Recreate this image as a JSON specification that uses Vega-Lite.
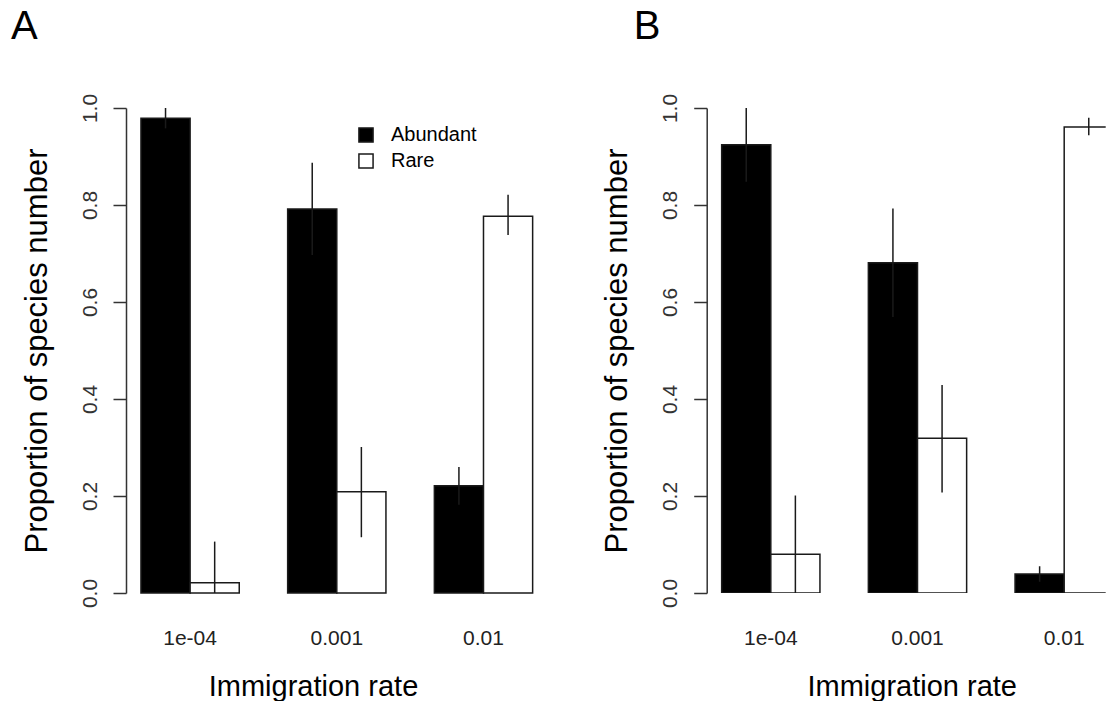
{
  "$schema": "https://vega.github.io/schema/vega-lite/v6.json",
  "background": "white",
  "padding": {"left": 11, "top": 6, "right": 0, "bottom": 0},
  "config": {
    "view": {"stroke": null},
    "font": "Liberation Sans",
    "title": {"fontSize": 40, "fontWeight": "normal", "color": "black", "anchor": "start", "frame": "bounds", "offset": 46.7},
    "axisX": {"domain": false, "ticks": false, "labelAngle": 0, "labelFontSize": 21, "labelColor": "#222", "labelPadding": 34, "titleFontSize": 29, "titleFontWeight": "normal", "titleColor": "black", "titlePadding": 24},
    "axisY": {"grid": false, "labelAngle": 270, "labelAlign": "center", "labelBaseline": "bottom", "labelFlush": false, "labelOverlap": false, "labelFontSize": 21, "labelColor": "#333", "labelPadding": 13, "tickSize": 13, "tickWidth": 1.5, "tickColor": "#333", "domainColor": "#333", "domainWidth": 1.5, "titleFontSize": 31, "titleFontWeight": "normal", "titleColor": "black", "titlePadding": 26}
  },
  "datasets": {
    "d": [
      {"panel": "A", "rate": "1e-04", "type": "Abundant", "value": 0.979, "lower": 0.958, "upper": 1.0},
      {"panel": "A", "rate": "1e-04", "type": "Rare", "value": 0.021, "lower": 0.0, "upper": 0.106},
      {"panel": "A", "rate": "0.001", "type": "Abundant", "value": 0.792, "lower": 0.697, "upper": 0.887},
      {"panel": "A", "rate": "0.001", "type": "Rare", "value": 0.209, "lower": 0.115, "upper": 0.301},
      {"panel": "A", "rate": "0.01", "type": "Abundant", "value": 0.221, "lower": 0.182, "upper": 0.26},
      {"panel": "A", "rate": "0.01", "type": "Rare", "value": 0.777, "lower": 0.738, "upper": 0.821},
      {"panel": "B", "rate": "1e-04", "type": "Abundant", "value": 0.924, "lower": 0.848, "upper": 1.0},
      {"panel": "B", "rate": "1e-04", "type": "Rare", "value": 0.08, "lower": 0.0, "upper": 0.201},
      {"panel": "B", "rate": "0.001", "type": "Abundant", "value": 0.681, "lower": 0.569, "upper": 0.793},
      {"panel": "B", "rate": "0.001", "type": "Rare", "value": 0.319, "lower": 0.207, "upper": 0.429},
      {"panel": "B", "rate": "0.01", "type": "Abundant", "value": 0.039, "lower": 0.023, "upper": 0.055},
      {"panel": "B", "rate": "0.01", "type": "Rare", "value": 0.961, "lower": 0.944, "upper": 0.98}
    ]
  },
  "spacing": 53.7,
  "resolve": {"scale": {"x": "independent", "xOffset": "independent", "y": "independent", "fill": "independent"}, "legend": {"fill": "independent"}},
  "hconcat": [
    {
      "title": {"text": "A", "dx": -10},
      "width": 421.6,
      "height": 485,
      "data": {"name": "d"},
      "transform": [{"filter": "datum.panel === 'A'"}],
      "encoding": {
        "x": {"field": "rate", "type": "nominal", "sort": null, "title": "Immigration rate", "axis": {"titleX": 187}, "scale": {"paddingInner": 0.33, "paddingOuter": 0.102}},
        "xOffset": {"field": "type", "type": "nominal", "sort": ["Abundant", "Rare"], "scale": {"paddingInner": 0, "paddingOuter": 0}}
      },
      "layer": [
        {
          "mark": {"type": "bar", "stroke": "#1a1a1a", "strokeWidth": 1.5},
          "encoding": {
            "y": {"field": "value", "type": "quantitative", "scale": {"domain": [0, 1], "nice": false, "zero": true}, "title": "Proportion of species number", "axis": {"values": [0, 0.2, 0.4, 0.6, 0.8, 1], "format": ".1f"}},
            "fill": {"field": "type", "type": "nominal", "scale": {"domain": ["Abundant", "Rare"], "range": ["black", "white"]},
              "legend": {"orient": "none", "legendX": 230, "legendY": 17, "title": null, "symbolType": "square", "symbolSize": 200, "symbolStrokeColor": "#1a1a1a", "symbolStrokeWidth": 1.5, "symbolOpacity": 1, "labelFontSize": 20, "labelColor": "black", "labelOffset": 15, "rowPadding": 4, "padding": 0}}
          }
        },
        {
          "mark": {"type": "rule", "color": "#1a1a1a", "strokeWidth": 1.5},
          "encoding": {
            "y": {"field": "lower", "type": "quantitative"},
            "y2": {"field": "upper"}
          }
        }
      ]
    },
    {
      "title": {"text": "B", "dx": 32},
      "width": 399,
      "height": 485,
      "data": {"name": "d"},
      "transform": [{"filter": "datum.panel === 'B'"}],
      "encoding": {
        "x": {"field": "rate", "type": "nominal", "sort": null, "title": "Immigration rate", "axis": {"titleX": 205}, "scale": {"paddingInner": 0.33, "paddingOuter": 0.102, "range": [0, 421.6]}},
        "xOffset": {"field": "type", "type": "nominal", "sort": ["Abundant", "Rare"], "scale": {"paddingInner": 0, "paddingOuter": 0}}
      },
      "layer": [
        {
          "mark": {"type": "bar", "stroke": "#1a1a1a", "strokeWidth": 1.5, "clip": true},
          "encoding": {
            "y": {"field": "value", "type": "quantitative", "scale": {"domain": [0, 1], "nice": false, "zero": true}, "title": "Proportion of species number", "axis": {"values": [0, 0.2, 0.4, 0.6, 0.8, 1], "format": ".1f"}},
            "fill": {"field": "type", "type": "nominal", "scale": {"domain": ["Abundant", "Rare"], "range": ["black", "white"]}, "legend": null}
          }
        },
        {
          "mark": {"type": "rule", "color": "#1a1a1a", "strokeWidth": 1.5, "clip": true},
          "encoding": {
            "y": {"field": "lower", "type": "quantitative"},
            "y2": {"field": "upper"}
          }
        }
      ]
    }
  ]
}
